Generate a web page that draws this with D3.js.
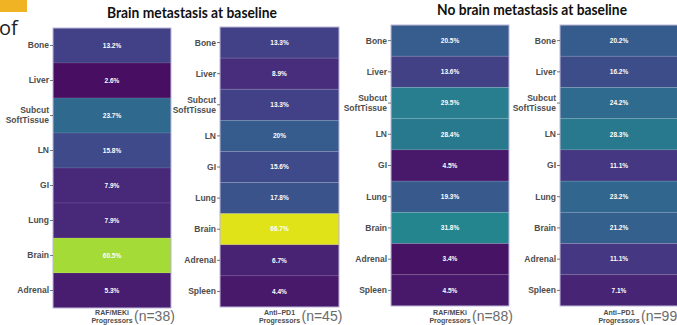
<!DOCTYPE html>
<meta charset='utf-8'>
<style>
  body { margin: 0; background: #fff; }
  svg { display: block; font-family: 'Liberation Sans', Arial, sans-serif; }
  .ylab { font-size: 8.5px; font-weight: bold; fill: #4d4d4d; }
  .cell-text { font-size: 6.5px; font-weight: bold; fill: #fff; }
  .xlab { font-size: 7px; font-weight: bold; fill: #4d4d4d; }
  .count { font-size: 14px; fill: #6b6b6b; }
  .title { font-family: Lato, 'Open Sans', sans-serif; font-size: 14.5px; font-weight: bold; fill: #111; }
</style>
<body>
<script src='https://d3js.org/d3.v7.min.js'></script>
<script>
  // sites (rows) and percentages for each panel
  var sitesBrain = ['Bone', 'Liver', 'Subcut|SoftTissue', 'LN', 'GI', 'Lung', 'Brain', 'Adrenal'];
  var sitesAll = ['Bone', 'Liver', 'Subcut|SoftTissue', 'LN', 'GI', 'Lung', 'Brain', 'Adrenal', 'Spleen'];

  var brainRaf = [13.2, 2.6, 23.7, 15.8, 7.9, 7.9, 60.5, 5.3];
  var brainPd1 = [13.3, 8.9, 13.3, 20, 15.6, 17.8, 66.7, 6.7, 4.4];
  var noBrainRaf = [20.5, 13.6, 29.5, 28.4, 4.5, 19.3, 31.8, 3.4, 4.5];
  var noBrainPd1 = [20.2, 16.2, 24.2, 28.3, 11.1, 23.2, 21.2, 11.1, 7.1];

  var groupLabels = ['RAF/MEKi|Progressors', 'Anti\u2013PD1|Progressors', 'RAF/MEKi|Progressors', 'Anti\u2013PD1|Progressors'];
  var counts = ['(n=38)', '(n=45)', '(n=88)', '(n=99)'];
  var titles = ['Brain metastasis at baseline', 'No brain metastasis at baseline'];

  var W = 677, H = 325;
  var svg = d3.select('body').append('svg').attr('width', W).attr('height', H);

  var color = d3.scaleSequential(d3.interpolateViridis).domain([0, 70]);

  // slide leftovers
  svg.append('rect').attr('x', 0).attr('y', 0).attr('width', 27).attr('height', 12).attr('fill', '#f0b323');
  svg.append('text').attr('x', -1).attr('y', 35).style('font-family', "'Open Sans', sans-serif")
    .style('font-size', '20px').attr('fill', '#222').text('of');

  var panels = [
    {sites: sitesBrain, vals: brainRaf, x0: 53, x1: 171, y0: 28, y1: 308},
    {sites: sitesAll, vals: brainPd1, x0: 220, x1: 339, y0: 27, y1: 307},
    {sites: sitesAll, vals: noBrainRaf, x0: 391, x1: 509, y0: 25, y1: 306},
    {sites: sitesAll, vals: noBrainPd1, x0: 560, x1: 678, y0: 25, y1: 306}
  ];

  panels.forEach(function(p, i) {
    var y = d3.scaleBand().domain(p.sites).range([p.y0, p.y1]);
    var g = svg.append('g');

    g.selectAll('rect.cell')
      .data(p.vals)
      .enter().append('rect')
      .attr('class', 'cell')
      .attr('x', p.x0)
      .attr('y', function(d, k) { return y(p.sites[k]); })
      .attr('width', p.x1 - p.x0)
      .attr('height', y.bandwidth())
      .attr('fill', function(d) { return color(d); })
      .attr('stroke', 'rgba(255,255,255,0.12)')
      .attr('stroke-width', 0.8);

    g.selectAll('text.cell-text')
      .data(p.vals)
      .enter().append('text')
      .attr('class', 'cell-text')
      .attr('x', (p.x0 + p.x1) / 2)
      .attr('y', function(d, k) { return y(p.sites[k]) + y.bandwidth() / 2; })
      .attr('dy', '0.35em')
      .attr('text-anchor', 'middle')
      .text(function(d) { return d + '%'; });

    // frame
    g.append('rect')
      .attr('x', p.x0).attr('y', p.y0)
      .attr('width', p.x1 - p.x0).attr('height', p.y1 - p.y0)
      .attr('fill', 'none').attr('stroke', '#b9b3d6').attr('stroke-width', 1);

    // y axis labels + ticks
    p.sites.forEach(function(s) {
      var cy = y(s) + y.bandwidth() / 2;
      g.append('line')
        .attr('x1', p.x0 - 3).attr('x2', p.x0)
        .attr('y1', cy).attr('y2', cy)
        .attr('stroke', '#555').attr('stroke-width', 0.8);
      var parts = s.split('|');
      var t = g.append('text').attr('class', 'ylab').attr('text-anchor', 'end');
      parts.forEach(function(line, j) {
        t.append('tspan')
          .attr('x', p.x0 - 4)
          .attr('y', cy + (j - (parts.length - 1) / 2) * 10)
          .attr('dy', '0.35em')
          .text(line);
      });
    });

    // x label
    var cx = (p.x0 + p.x1) / 2;
    var xl = groupLabels[i].split('|');
    xl.forEach(function(line, j) {
      g.append('text').attr('class', 'xlab')
        .attr('x', cx).attr('y', 315 + j * 8)
        .attr('text-anchor', 'middle')
        .text(line);
    });
    g.append('text').attr('class', 'count')
      .attr('x', cx + 22).attr('y', 321)
      .text(counts[i]);
  });

  svg.append('text').attr('class', 'title')
    .attr('x', 192).attr('y', 18).attr('text-anchor', 'middle')
    .attr('textLength', 170).attr('lengthAdjust', 'spacingAndGlyphs').text(titles[0]);
  svg.append('text').attr('class', 'title')
    .attr('x', 532).attr('y', 15).attr('text-anchor', 'middle')
    .attr('textLength', 190).attr('lengthAdjust', 'spacingAndGlyphs').text(titles[1]);
</script>
</body>
